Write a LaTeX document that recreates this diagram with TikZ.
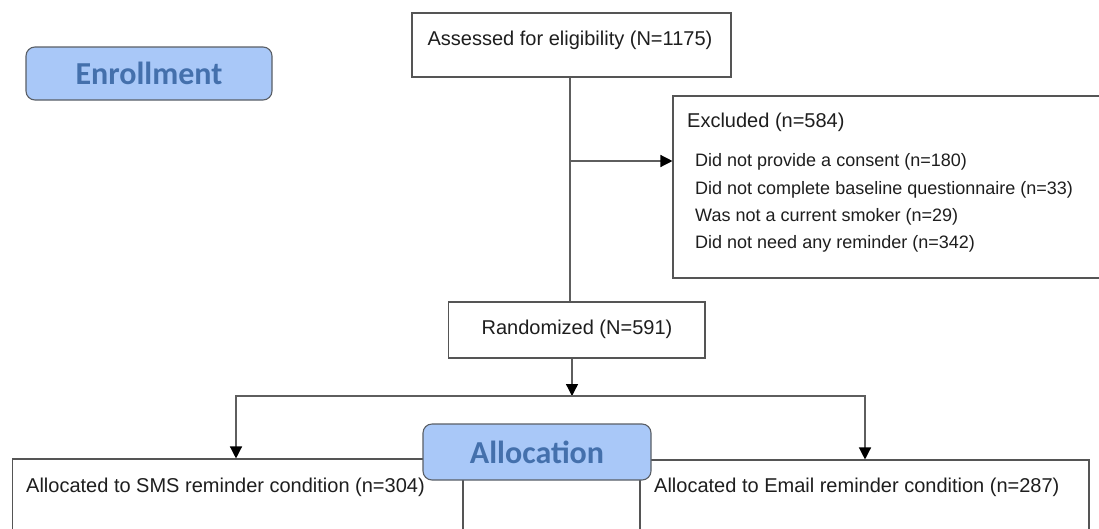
\documentclass[tikz,border=0pt]{standalone}
\usepackage{fontspec}
\setmainfont{Liberation Sans}
\newfontfamily\calib{Carlito}
\usetikzlibrary{arrows.meta}
\definecolor{phasefill}{HTML}{A9C8F8}
\definecolor{phasetext}{HTML}{4470AC}
\definecolor{phaseline}{HTML}{5A5F66}
\definecolor{boxline}{HTML}{555555}
\definecolor{connline}{HTML}{5E5E5E}
\definecolor{txtcol}{HTML}{1E1E1E}
\tikzset{
  flowbox/.style={draw=boxline, line width=1.1pt, fill=white, inner sep=0pt},
  phasebox/.style={draw=phaseline, line width=1.1pt, fill=phasefill, rounded corners=9pt, inner sep=0pt,
    font=\calib\bfseries\fontsize{32}{36}\selectfont, text=phasetext},
  maintxt/.style={inner sep=0pt, text=txtcol, font=\fontsize{20}{24}\selectfont},
  itemtxt/.style={inner sep=0pt, text=txtcol, font=\fontsize{18}{22}\selectfont, anchor=west},
  conn/.style={draw=connline, line width=1.3pt},
  arr/.style={conn, -{Triangle[length=12pt,width=12pt,color=black]}}
}
\begin{document}
\begin{tikzpicture}[x=1pt,y=-1pt]
\useasboundingbox (0,0) rectangle (1099,528);
\clip (0,0) rectangle (1099,528);
\fill[white] (0,0) rectangle (1099,528);

% phase label
\node[phasebox, minimum width=246pt, minimum height=53pt] (enroll) at (149,73.5) {Enrollment};

% assessed
\node[flowbox, minimum width=319pt, minimum height=64pt] (assess) at (571.5,45) {};
\node[maintxt] (assesstxt) at (570,40) {Assessed for eligibility (N=1175)};

% excluded
\node[flowbox, minimum width=437pt, minimum height=182pt] (excl) at (891.5,187) {};
\node[maintxt, anchor=west] (excltxt) at (687,122) {Excluded (n=584)};
\node[itemtxt] (ex1) at (695,162) {Did not provide a consent (n=180)};
\node[itemtxt] (ex2) at (695,190) {Did not complete baseline questionnaire (n=33)};
\node[itemtxt] (ex3) at (695,217) {Was not a current smoker (n=29)};
\node[itemtxt] (ex4) at (695,244) {Did not need any reminder (n=342)};

% randomized
\node[flowbox, minimum width=256.5pt, minimum height=56pt] (rand) at (576.75,330) {};
\node[maintxt] (randtxt) at (577,329) {Randomized (N=591)};

% allocated boxes
\node[flowbox, minimum width=450.4pt, minimum height=101pt] (sms) at (237.8,509.5) {};
\node[maintxt, anchor=west] (smstxt) at (26,487) {Allocated to SMS reminder condition (n=304)};
\node[flowbox, minimum width=449pt, minimum height=100pt] (email) at (864.5,510) {};
\node[maintxt, anchor=west] (emailtxt) at (654,487) {Allocated to Email reminder condition (n=287)};

% allocation phase label
\node[phasebox, minimum width=228pt, minimum height=56pt] (alloc) at (537,452) {Allocation};

% connectors
\coordinate (trunk) at (570,0);
\coordinate (split) at (570,161);
\coordinate (fork) at (572,396);
\coordinate (forkL) at (236,396);
\coordinate (forkR) at (865,396);
\draw[conn] (assess.south -| trunk) -- (rand.north -| trunk);
\draw[arr] (split) -- (split -| excl.west);
\draw[arr] (rand.south -| fork) -- (fork);
\draw[arr] (fork) -- (forkL) -- (forkL |- sms.north);
\draw[arr] (fork) -- (forkR) -- (forkR |- email.north);
\end{tikzpicture}
\end{document}
